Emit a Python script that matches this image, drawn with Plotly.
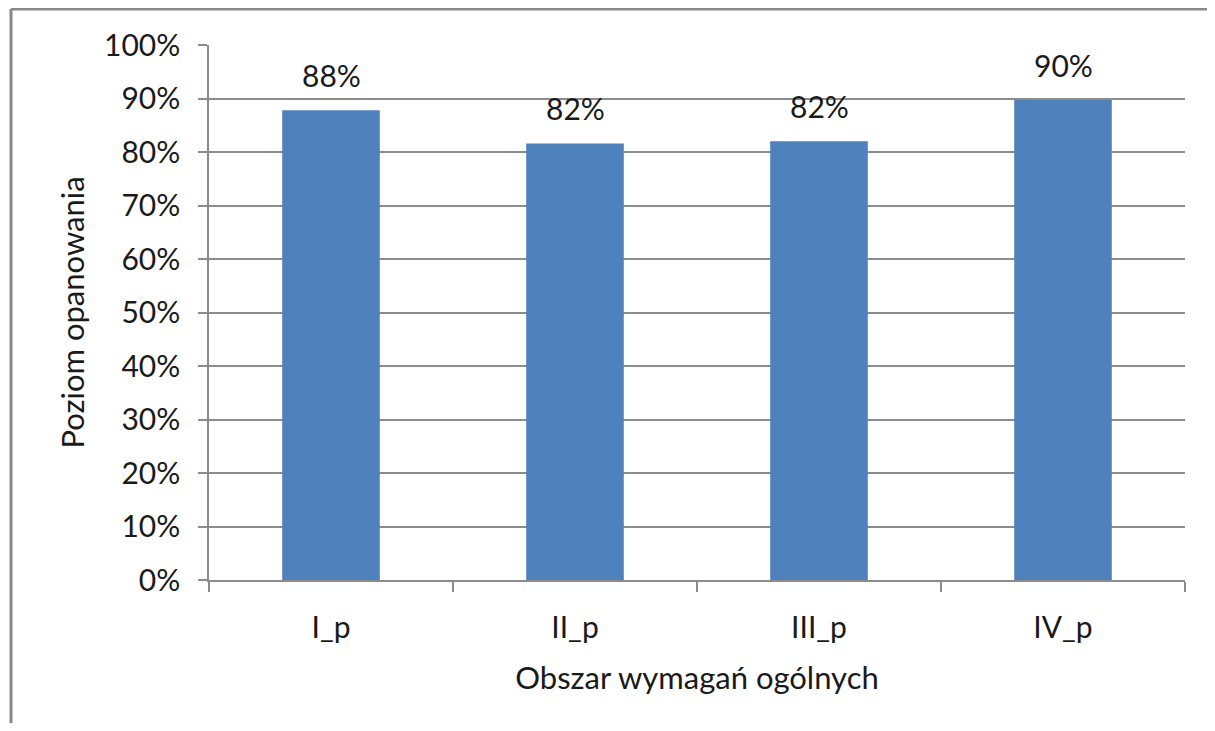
import plotly.graph_objects as go

categories = ["I_p", "II_p", "III_p", "IV_p"]
values = [0.878, 0.816, 0.820, 0.897]
tick_vals = [0, 0.1, 0.2, 0.3, 0.4, 0.5, 0.6, 0.7, 0.8, 0.9, 1.0]
tick_text = ["0%", "10%", "20%", "30%", "40%", "50%", "60%", "70%", "80%", "90%", "100%"]
y_title = "Poziom opanowania"
x_title = "Obszar wymagań ogólnych"

FONT = "Lato, 'Open Sans', sans-serif"
TXT = "#1a1a1a"
AXIS_GREY = "#8c8c8c"

# plot area in page pixels (page has an 8px body margin)
PX_L, PX_R, PX_T, PX_B = 209, 1185, 45, 580
W, H = 1199, 715
PW, PH = PX_R - PX_L, PX_B - PX_T

fig = go.Figure()
fig.add_trace(go.Bar(
    x=categories,
    y=values,
    marker=dict(color="#4F81BD", line=dict(width=0)),
    width=0.4,
    hoverinfo="x+y",
))

annotations = [
    dict(x=c, y=v, xref="x", yref="y", text=f"{round(v * 100):.0f}%",
         showarrow=False, yanchor="middle", yshift=35,
         font=dict(size=30, family=FONT, color=TXT))
    for c, v in zip(categories, values)
]

fig.update_layout(
    width=W,
    height=H,
    margin=dict(l=PX_L - 8, r=W - (PX_R - 8), t=PX_T - 8, b=H - (PX_B - 8)),
    paper_bgcolor="white",
    plot_bgcolor="white",
    showlegend=False,
    font=dict(family=FONT, size=30, color=TXT),
    annotations=annotations,
    xaxis=dict(
        showline=True,
        linecolor=AXIS_GREY,
        linewidth=2,
        ticks="outside",
        tickson="boundaries",
        ticklen=10,
        tickcolor=AXIS_GREY,
        tickwidth=1.5,
        ticklabelstandoff=20,
        tickfont=dict(size=30, family=FONT, color=TXT),
        title=dict(text=x_title, font=dict(size=31, family=FONT, color=TXT), standoff=24),
        showgrid=False,
    ),
    yaxis=dict(
        range=[0, 1.0],
        tickvals=tick_vals,
        ticktext=tick_text,
        showline=True,
        linecolor=AXIS_GREY,
        linewidth=1.5,
        ticks="outside",
        ticklen=9,
        tickcolor=AXIS_GREY,
        tickwidth=1.5,
        ticklabelstandoff=12,
        showgrid=True,
        gridcolor=AXIS_GREY,
        gridwidth=1.5,
        zeroline=False,
        tickfont=dict(size=30, family=FONT, color=TXT),
        title=dict(text=y_title, font=dict(size=31, family=FONT, color=TXT), standoff=10),
    ),
    shapes=[
        dict(type="line", xref="paper", yref="paper",
             x0=(11 - PX_L) / PW, x1=(1240 - PX_L) / PW,
             y0=(PX_B - 9) / PH, y1=(PX_B - 9) / PH,
             line=dict(color="#888888", width=3)),
        dict(type="line", xref="paper", yref="paper",
             x0=(11 - PX_L) / PW, x1=(11 - PX_L) / PW,
             y0=(PX_B - 9) / PH, y1=(PX_B - 760) / PH,
             line=dict(color="#888888", width=3)),
    ],
)

fig.write_html("out.html")
